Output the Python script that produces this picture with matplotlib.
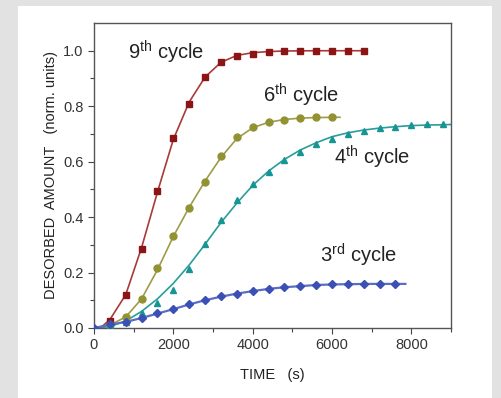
import matplotlib
matplotlib.use('Agg')
import matplotlib.pyplot as plt
from matplotlib.patches import Rectangle

plt.rcParams['font.family'] = ['Liberation Sans', 'DejaVu Sans']
plt.rcParams['mathtext.fontset'] = 'custom'
plt.rcParams['mathtext.rm'] = 'Liberation Sans'
plt.rcParams['mathtext.it'] = 'Liberation Sans'

# measured points (time in s, normalised desorbed amount)
t9 = [400, 800, 1200, 1600, 2000, 2400, 2800, 3200, 3600, 4000, 4400, 4800, 5200, 5600, 6000, 6400, 6800]
y9 = [0.025, 0.118, 0.284, 0.495, 0.684, 0.808, 0.904, 0.959, 0.981, 0.989, 0.996, 0.999, 0.999, 0.999, 0.999, 0.999, 0.999]

t6 = [400, 800, 1200, 1600, 2000, 2400, 2800, 3200, 3600, 4000, 4400, 4800, 5200, 5600, 6000]
y6 = [0.012, 0.038, 0.105, 0.215, 0.333, 0.433, 0.528, 0.620, 0.690, 0.725, 0.742, 0.751, 0.757, 0.760, 0.760]

t4 = [400, 800, 1200, 1600, 2000, 2400, 2800, 3200, 3600, 4000, 4400, 4800, 5200, 5600, 6000, 6400, 6800, 7200, 7600, 8000, 8400, 8800]
y4 = [0.010, 0.020, 0.053, 0.089, 0.137, 0.213, 0.302, 0.389, 0.460, 0.518, 0.564, 0.606, 0.636, 0.662, 0.681, 0.698, 0.710, 0.720, 0.726, 0.731, 0.734, 0.737]

t3 = [0, 400, 800, 1200, 1600, 2000, 2400, 2800, 3200, 3600, 4000, 4400, 4800, 5200, 5600, 6000, 6400, 6800, 7200, 7600]
y3 = [0.0, 0.013, 0.022, 0.035, 0.053, 0.067, 0.085, 0.101, 0.114, 0.124, 0.132, 0.141, 0.147, 0.151, 0.155, 0.157, 0.159, 0.159, 0.159, 0.159]

# fitted curves
f9x = [0, 200, 400, 800, 1200, 1600, 2000, 2400, 2800, 3200, 3600, 4000, 4400, 4800, 5600, 6800]
f9y = [0, 0.005, 0.03, 0.12, 0.29, 0.49, 0.68, 0.815, 0.905, 0.958, 0.983, 0.993, 0.997, 0.999, 1.0, 1.0]

f6x = [0, 400, 800, 1200, 1600, 2000, 2400, 2800, 3200, 3600, 4000, 4400, 4800, 5200, 5600, 6200]
f6y = [0, 0.01, 0.04, 0.105, 0.21, 0.33, 0.435, 0.53, 0.615, 0.683, 0.722, 0.742, 0.752, 0.757, 0.759, 0.76]

f4x = [0, 400, 800, 1200, 1600, 2000, 2400, 2800, 3200, 3600, 4000, 4400, 4800, 5200, 5600, 6000, 6400, 6800, 7200, 7600, 8000, 8400, 8800, 9000]
f4y = [0, 0.005, 0.025, 0.06, 0.105, 0.161, 0.227, 0.302, 0.38, 0.45, 0.514, 0.566, 0.608, 0.642, 0.668, 0.69, 0.704, 0.714, 0.721, 0.726, 0.73, 0.732, 0.733, 0.734]

f3x = [0, 400, 800, 1200, 1600, 2000, 2400, 2800, 3200, 3600, 4000, 4400, 4800, 5200, 5600, 6000, 6400, 7000, 7850]
f3y = [0, 0.012, 0.022, 0.036, 0.052, 0.068, 0.085, 0.1, 0.113, 0.124, 0.133, 0.141, 0.147, 0.151, 0.155, 0.157, 0.158, 0.159, 0.159]

fig = plt.figure(figsize=(5.01, 3.98), dpi=100, facecolor='#e2e2e2')
fig.patches.append(Rectangle((18 / 501, 0), 474 / 501, 392 / 398, transform=fig.transFigure,
                             facecolor='white', edgecolor='none', zorder=-5))
ax = fig.add_axes([0.1876, 0.1759, 0.7126, 0.7663])
ax.set_zorder(1)

ax.plot(f9x, f9y, color='#a83a3a', lw=1.2, zorder=2)
ax.plot(t9, y9, 's', color='#8b1515', ms=4.5, zorder=3)
ax.plot(f6x, f6y, color='#9c9c48', lw=1.2, zorder=2)
ax.plot(t6, y6, 'o', color='#929232', ms=5, zorder=3)
ax.plot(f4x, f4y, color='#2a9c9c', lw=1.2, zorder=2)
ax.plot(t4, y4, '^', color='#179494', ms=5, zorder=3)
ax.plot(f3x, f3y, color='#5a6cc4', lw=1.6, zorder=2)
ax.plot(t3, y3, 'D', color='#3a50b4', ms=4, zorder=3)

fs = 14.5
ax.text(861, 0.970, r'9$^{\mathrm{th}}$ cycle', fontsize=fs, color='#222222', va='baseline')
ax.text(4253, 0.815, r'6$^{\mathrm{th}}$ cycle', fontsize=fs, color='#222222', va='baseline')
ax.text(6051, 0.591, r'4$^{\mathrm{th}}$ cycle', fontsize=fs, color='#222222', va='baseline')
ax.text(5696, 0.238, r'3$^{\mathrm{rd}}$ cycle', fontsize=fs, color='#222222', va='baseline')

ax.set_xlim(0, 9000)
ax.set_ylim(0, 1.1)
ax.set_xticks([0, 2000, 4000, 6000, 8000])
ax.set_xticks([1000, 3000, 5000, 7000, 9000], minor=True)
ax.set_yticks([0.0, 0.2, 0.4, 0.6, 0.8, 1.0])
ax.set_yticks([0.1, 0.3, 0.5, 0.7, 0.9], minor=True)
ax.set_yticklabels(['0.0', '0.2', '0.4', '0.6', '0.8', '1.0'])
ax.tick_params(which='both', direction='out', colors='#444444', labelcolor='#333333', labelsize=10.5)
ax.tick_params(which='major', length=4, width=0.8)
ax.tick_params(which='minor', length=3, width=0.8)
for s in ax.spines.values():
    s.set_color('#555555')
    s.set_linewidth(1.0)

ax.set_xlabel('TIME   (s)', fontsize=10.5, color='#222222', labelpad=11)
ax.set_ylabel('DESORBED  AMOUNT   (norm. units)', fontsize=10.5, color='#222222', labelpad=4)

fig.savefig('out.png', dpi=100, facecolor=fig.get_facecolor())
